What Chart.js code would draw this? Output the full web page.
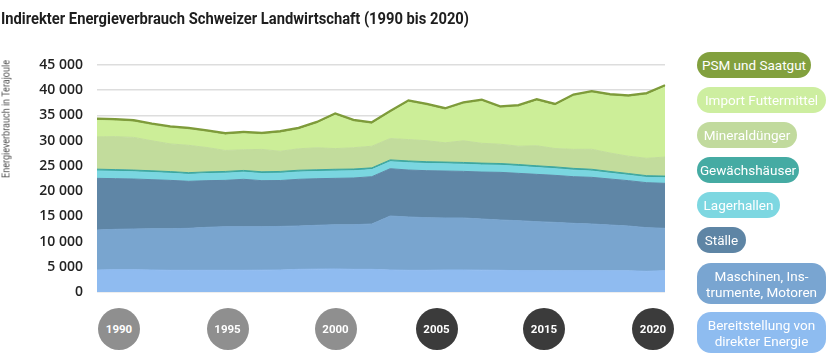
<!DOCTYPE html>
<html>
<head>
<meta charset="utf-8">
<script src="https://cdn.jsdelivr.net/npm/chart.js@4/dist/chart.umd.min.js"></script>
<style>
  html,body{margin:0;padding:0;background:#fff;}
  #wrap{position:relative;width:836px;height:362px;overflow:hidden;font-family:Roboto,"Open Sans",sans-serif;}
  #c{position:absolute;left:0;top:0;}
  #title{position:absolute;left:1px;top:10px;font-size:17px;line-height:17px;font-weight:700;color:#1e1e1e;white-space:nowrap;transform-origin:0 50%;}
  #ytitle{position:absolute;left:0;top:0;font-size:11px;line-height:12px;color:#555;white-space:nowrap;transform-origin:0 0;}
  .pill{position:absolute;left:697px;border-radius:14px;color:#fff;font-size:13.5px;line-height:16px;display:flex;align-items:center;justify-content:center;text-align:center;white-space:pre;}
  .yr{position:absolute;width:42px;height:42px;border-radius:50%;color:#fff;font-weight:700;font-size:11.5px;display:flex;align-items:center;justify-content:center;}
</style>
</head>
<body>
<div id="wrap">
  <canvas id="c" width="836" height="362"></canvas>
  <div id="title">Indirekter Energieverbrauch Schweizer Landwirtschaft (1990 bis 2020)</div>
  <div id="ytitle">Energieverbrauch in Terajoule</div>
</div>
<script>
// ---- data ----
const years = ['1990','1991','1992','1993','1994','1995','1996','1997','1998','1999','2000','2001','2002','2003','2004','2005','2006','2007','2008','2009','2010','2011','2012','2013','2014','2015','2016','2017','2018','2019','2020','2021'];

const bereitstellung = [4360,4430,4430,4360,4300,4300,4300,4300,4300,4330,4360,4490,4530,4560,4490,4490,4360,4300,4300,4360,4360,4330,4300,4230,4230,4200,4230,4230,4200,4200,4100,4230];
const maschinen = [7930,7990,8060,8190,8250,8320,8520,8650,8650,8620,8640,8590,8690,8780,8850,8990,10700,10570,10430,10310,10310,10140,9970,9910,9710,9600,9380,9250,9080,8880,8650,8390];
const staelle = [10240,10050,9910,9720,9580,9320,9250,9180,9390,9120,9100,9260,9240,9190,9260,9380,9380,9310,9320,9310,9240,9310,9450,9380,9380,9320,9250,9250,9120,8990,8920,8920];
const lagerhallen = [1480,1450,1430,1420,1400,1380,1400,1430,1420,1420,1450,1450,1420,1450,1430,1400,1400,1450,1430,1430,1420,1420,1400,1400,1350,1330,1300,1250,1150,1080,1050,1100];
const gewaechshaeuser = [340,340,340,340,340,340,340,340,340,340,350,350,350,350,350,350,350,350,350,350,350,350,350,350,350,350,350,350,350,340,340,340];
const mineralduenger = [6400,6540,6480,5950,5490,5420,4830,4160,4100,4440,4000,4250,4360,4100,4220,4290,4230,4240,4160,3820,4290,3930,3830,3630,3970,3640,3770,3970,3650,3430,3450,3770];
const importFuttermittel = [3250,3110,3030,3050,3110,3090,3040,3040,3170,2900,3600,3760,4750,6600,5150,4360,5080,7390,6940,6480,7270,8290,7140,7780,8850,8460,10500,11160,11290,11690,12540,13870];
const psmSaatgut = [400,400,400,400,400,400,400,400,400,400,400,400,400,400,400,400,400,400,400,400,400,400,400,400,400,400,400,400,400,400,400,400];

const seriesNames = ['Bereitstellung von direkter Energie','Maschinen, Instrumente, Motoren','Ställe','Lagerhallen','Gewächshäuser','Mineraldünger','Import Futtermittel','PSM und Saatgut'];
const legendLabels = ['PSM und Saatgut','Import Futtermittel','Mineraldünger','Gewächshäuser','Lagerhallen','Ställe','Maschinen, Ins-\ntrumente, Motoren','Bereitstellung von\ndirekter Energie'];
const yearBadges = ['1990','1995','2000','2005','2015','2020'];
const yMax = 45000, yStep = 5000;

// ---- styles ----
const seriesValues = [bereitstellung, maschinen, staelle, lagerhallen, gewaechshaeuser, mineralduenger, importFuttermittel, psmSaatgut];
const areaColors = ['#8fbbf0','#79a5cf','#5f86a6','#7ad6e0','#3ea79f','#c2dc9c','#ccee98','#86a445'];
const pillColors = ['#82a03e','#cdeea0','#c1da9d','#45aba3','#7dd7e1','#5e85a5','#79a5d1','#8ebcf0'];
const pillBox = [[52,114,26],[87,129,26],[122,100,26],[157,102,26],[192,83,26],[227,49,26],[263,129,41],[312,129,41]];
const badgeX = [119,227.5,335.5,436.5,544,653];
const badgeColors = ['#8f8f8f','#8f8f8f','#8f8f8f','#3b3b3b','#3b3b3b','#3b3b3b'];

const fmt = v => String(v).replace(/\B(?=(\d{3})+(?!\d))/g, ' ');

const datasets = seriesValues.map((vals, i) => ({
  label: seriesNames[i],
  data: vals,
  backgroundColor: areaColors[i],
  borderColor: i === 7 ? '#7e9b3a' : areaColors[i],
  borderWidth: i === 7 ? 2 : 1,
  fill: i === 0 ? 'origin' : '-1',
  pointRadius: 0,
  tension: 0
}));

new Chart(document.getElementById('c'), {
  type: 'line',
  data: { labels: years, datasets },
  options: {
    responsive: false,
    animation: false,
    devicePixelRatio: 1,
    layout: { padding: { left: 0, right: 171, top: 65, bottom: 70 } },
    plugins: { legend: { display: false }, tooltip: { enabled: false } },
    scales: {
      x: { display: false, offset: false },
      y: {
        stacked: true, min: 0, max: yMax,
        afterFit: s => { s.width = 97; },
        border: { display: false },
        grid: { color: '#dddddd', lineWidth: 1.5, drawTicks: false },
        ticks: { stepSize: yStep, padding: 14, color: '#222', font: { family: 'Open Sans', size: 14, weight: '600' }, callback: v => fmt(v) }
      }
    }
  }
});

const wrap = document.getElementById('wrap');
legendLabels.forEach((t, i) => {
  const d = document.createElement('div');
  d.className = 'pill';
  d.textContent = t;
  d.style.top = pillBox[i][0] + 'px';
  d.style.width = pillBox[i][1] + 'px';
  d.style.height = pillBox[i][2] + 'px';
  d.style.background = pillColors[i];
  wrap.appendChild(d);
});
yearBadges.forEach((t, i) => {
  const d = document.createElement('div');
  d.className = 'yr';
  d.textContent = t;
  d.style.left = (badgeX[i] - 21) + 'px';
  d.style.top = (328.5 - 21) + 'px';
  d.style.background = badgeColors[i];
  wrap.appendChild(d);
});

// fit title & axis title widths
const title = document.getElementById('title');
const tw = title.getBoundingClientRect().width;
title.style.transform = 'scaleX(' + (468 / tw) + ')';
const yt = document.getElementById('ytitle');
const yw = yt.getBoundingClientRect().width;
yt.style.transform = 'translate(0.5px,178px) rotate(-90deg) scaleX(' + (118 / yw) + ')';
</script>
</body>
</html>
